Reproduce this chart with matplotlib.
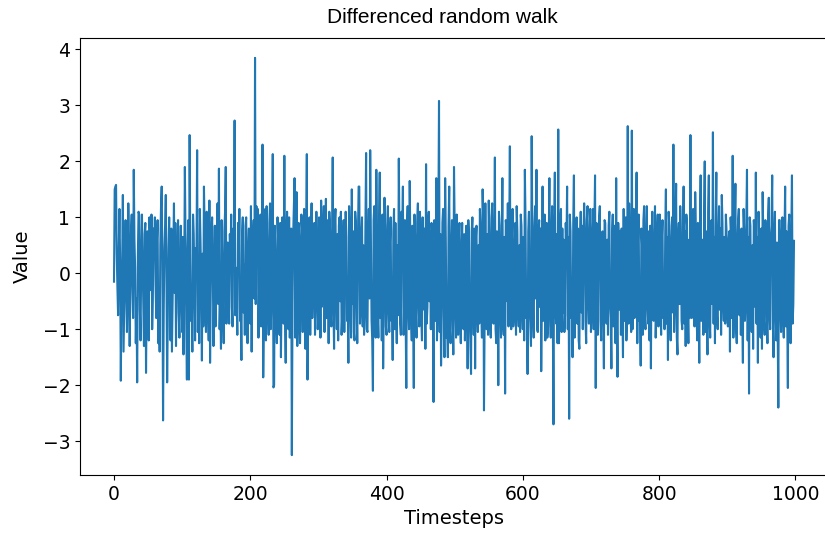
import matplotlib
matplotlib.use("Agg")
import matplotlib.pyplot as plt
import numpy as np

# values (differenced random walk), index 0..998
diff_values = [
    -0.15, 1.50, 1.55, 1.58, 0.35, -0.25, -0.75, 0.45, 1.15, 0.20,
    -1.92, -0.45, 0.15, 1.40, -1.40, -0.60, 0.25, 0.95, -0.35, -1.05,
    -0.55, 1.25, 0.40, -1.30, -0.20, 0.75, 1.05, -0.15, -0.80, 1.85,
    0.60, 0.10, -1.25, -0.45, -1.95, 0.30, 1.10, 1.05, -0.65, -1.20,
    0.35, 1.05, 0.20, -0.50, -1.30, 0.70, 0.90, -1.78, -0.40, 0.75,
    0.15, -1.20, 1.00, 0.60, -0.30, 1.05, -1.00, -0.45, 0.80, 0.25,
    1.00, -0.20, -0.80, 0.60, 0.95, -1.25, -0.35, -1.40, 0.50, 1.20,
    1.55, 0.20, -2.63, -0.65, 0.45, 0.85, 1.40, -0.10, -1.95, -0.70,
    0.45, 1.00, -0.30, -1.20, 0.80, -1.40, -0.55, 0.25, 1.25, -0.35,
    0.90, -1.30, -0.15, 0.35, 0.95, -0.70, -1.15, 0.10, 0.85, -0.40,
    -1.05, 0.65, -1.45, -0.20, 1.90, 0.50, -0.80, -1.90, 0.35, 0.95,
    -1.90, 2.47, 0.30, -0.85, -0.40, -1.40, 1.05, 0.70, -0.25, -1.20,
    0.45, 0.15, 2.20, -1.05, -0.30, -1.25, 1.15, 0.55, -0.20, -1.56,
    0.35, -0.95, 1.55, 0.80, -0.70, -1.05, 1.10, 0.35, -0.55, -1.20,
    1.30, -1.60, -0.25, 0.65, 1.00, 0.10, -1.30, -0.45, 0.85, -0.95,
    0.60, 0.20, 1.25, -0.55, 1.87, -1.00, -0.40, -1.35, 0.95, 0.15,
    -0.65, -1.25, 0.75, 1.10, 1.90, -0.90, 0.05, 0.55, -0.45, -0.90,
    0.70, 0.25, 1.05, -0.60, -0.95, 0.80, 0.45, 2.73, -0.75, 0.10,
    -0.50, -1.10, 0.90, 0.30, 1.15, -0.85, -0.55, -1.55, 0.70, 1.00,
    -0.70, 0.15, -1.10, 0.85, 1.00, -0.35, -1.25, 0.40, 0.80, -0.65,
    -0.90, 1.20, -1.40, 0.25, 0.65, 0.95, -0.45, 3.85, -0.55, 1.20,
    0.35, 1.15, -1.15, -0.25, 0.70, 1.05, -0.95, 0.10, 2.30, -1.86,
    -0.70, 0.80, 1.15, -1.20, 1.20, 0.45, -0.55, -1.10, 0.90, 1.25,
    -1.00, -0.50, 0.70, 2.13, -2.04, -2.00, 0.85, 0.20, -0.80, -1.25,
    1.00, 0.55, -0.65, -1.10, 0.90, -1.50, -0.35, 1.00, 0.75, -0.90,
    2.10, -0.70, -1.60, 0.65, 1.10, 0.45, -1.00, 1.00, -1.15, -0.40,
    0.80, -3.25, -0.55, 0.70, 1.20, 1.70, -1.15, 0.50, 1.45, -1.30,
    -0.75, 0.90, 0.55, -1.25, -0.45, 1.05, 0.80, -1.05, 0.35, 1.15,
    -0.90, -1.35, 0.70, 2.13, -1.90, -0.60, 0.85, 1.00, -1.10, 0.45,
    1.25, -0.80, -0.25, 0.60, 0.90, -1.10, -0.50, 1.10, 0.35, -1.00,
    -0.70, 1.00, 0.55, -1.15, 1.30, -0.60, -0.45, 0.85, 1.20, -1.05,
    0.60, 1.33, -0.80, -0.40, 0.95, -1.25, 1.10, 0.80, -0.70, -0.95,
    0.50, 2.07, -0.55, -1.35, 0.90, 1.15, -0.35, -1.00, 0.70, -1.20,
    0.85, 1.00, -0.50, 1.10, -1.10, -0.75, 0.55, 0.95, -1.05, 0.40,
    1.10, 0.65, -0.85, -0.45, -1.60, 1.20, 0.80, -0.70, -1.15, 1.50,
    -0.55, 0.75, -1.05, -1.20, 1.10, 0.90, -0.30, -1.25, 0.60, 1.55,
    1.55, -0.90, -0.60, 0.70, 1.00, -0.95, 0.50, -1.10, -0.75, 0.85,
    2.15, -1.00, -1.05, 0.55, 1.15, -0.45, 2.20, 0.75, -0.85, -1.20,
    -2.10, 0.95, 1.20, -0.55, -1.15, 1.85, 0.45, -0.70, -1.15, 0.90,
    1.80, -0.80, 0.60, -1.20, 1.05, -1.70, -0.40, 1.35, 0.70, -0.95,
    -1.10, 0.85, 1.20, -0.60, -1.05, 0.55, 1.00, -0.85, -0.45, -1.55,
    0.75, 1.15, -1.00, 0.90, -0.55, -1.25, 0.50, -0.75, 2.05, 0.65,
    -0.90, -1.10, 1.10, 0.70, 1.55, -1.10, -0.50, 0.95, -0.80, -2.05,
    0.80, 1.20, -0.60, -1.00, 1.65, 0.45, -0.75, -1.20, 0.85, -0.55,
    -2.05, 1.05, 0.60, -0.70, -1.15, 0.90, 1.25, -0.45, -0.95, 1.10,
    0.70, -0.80, -1.20, 1.00, 0.50, -0.65, 0.80, -1.35, 1.95, -0.90,
    -0.60, 0.85, 1.10, -0.50, 0.75, -1.00, 0.90, 0.45, -0.70, -2.30,
    0.95, 0.65, -0.85, 1.70, -1.20, -0.55, 0.80, 3.08, -1.05, 0.70,
    -1.65, -0.75, 0.90, 1.15, -0.45, -1.50, 1.70, 0.55, -1.15, -0.90,
    -1.50, 0.85, 1.55, -1.00, -1.25, 0.50, 0.95, -0.55, -1.45, 1.90,
    0.80, -0.70, -1.15, 1.05, 0.55, -1.10, 0.65, 0.90, -0.85, -1.25,
    0.45, 0.90, -0.75, -1.00, 0.70, -1.20, -0.55, 0.85, 0.40, -1.70,
    0.95, 0.65, -0.80, -1.20, -1.80, 0.75, 1.00, -0.50, -1.10, 0.80,
    -1.70, 0.60, 0.85, -0.70, -1.05, 0.50, -0.90, 1.15, 0.80, -0.60,
    -1.15, 1.50, 0.90, -2.45, -0.75, 1.25, -0.55, -1.00, 0.70, -1.10,
    1.30, 0.55, -0.85, -1.15, 1.00, 1.25, -0.55, -0.90, 0.70, 2.07,
    -1.00, -1.25, 0.75, 0.60, -2.00, 1.10, 0.85, -0.70, -1.15, 0.45,
    1.70, -0.90, -1.10, 0.65, -2.15, 0.95, 0.80, -0.50, 1.25, -0.95,
    0.70, 2.27, -0.80, -1.00, 0.60, 1.15, -0.95, -0.75, 0.45, 0.90,
    -1.10, 1.20, 0.75, -0.65, -0.95, 0.50, -1.05, 1.05, 0.85, -0.70,
    -1.00, 0.65, -1.20, 1.85, 0.90, -0.80, -0.55, -1.80, 0.75, 1.10,
    -0.65, -0.90, -1.30, 2.45, 0.60, -0.75, -1.15, 0.85, 1.20, -0.45,
    1.85, -1.00, -1.05, 0.70, 0.95, -0.60, 0.80, -1.75, -0.45, 1.55,
    -0.85, 0.65, 1.05, -1.20, -0.70, 0.90, -1.15, -0.95, 0.55, 1.70,
    -0.60, -1.15, 0.75, 1.20, -0.80, -2.70, 0.85, 1.80, -0.65, -0.90,
    0.70, -1.25, 2.57, -1.25, -0.60, 0.95, 1.15, -1.05, 0.80, -0.70,
    0.60, -1.05, -0.75, 0.90, 0.45, 1.55, -1.00, 0.65, -2.60, 1.05,
    0.75, -0.80, -0.60, -1.50, 0.90, 1.75, -1.15, -0.55, 0.70, 1.00,
    -0.90, 0.80, -1.20, -1.35, 0.55, 1.10, -0.70, 0.85, -1.00, 0.60,
    1.25, 0.75, -0.85, -1.25, 0.95, 1.20, -0.50, -0.90, 0.65, 1.15,
    -1.05, -0.60, 0.70, 1.15, -1.00, 0.80, 1.75, -2.05, 0.90, -0.75,
    -1.10, 0.65, 1.00, 1.20, -0.85, -1.20, 0.55, 0.75, -0.65, -1.70,
    0.95, 0.90, -0.70, -0.90, 0.60, -1.10, 0.85, 1.10, -0.55, -0.80,
    -1.70, 0.70, 1.05, -0.95, -0.60, 0.85, -1.25, 1.70, -0.75, -1.85,
    0.90, 0.55, -0.65, 0.75, -1.10, 0.80, -0.50, -1.50, 1.15, -0.85,
    0.75, 1.00, -1.20, -0.60, 2.63, -0.90, 1.25, 0.65, -0.75, -1.05,
    2.55, -1.00, 0.70, 1.15, -0.80, -0.55, 0.90, 1.80, -1.25, 0.60,
    1.05, -0.85, -0.65, -1.65, 0.80, 0.50, -1.10, 0.95, 1.20, -0.75,
    -1.00, 0.65, 1.20, -0.55, -0.90, 0.75, -1.20, 0.85, -1.70, 0.60,
    1.10, -0.70, -0.85, 0.55, 1.20, -1.15, -0.60, 0.70, 1.05, -0.95,
    0.80, 1.05, -0.65, -1.10, 0.60, 0.95, -0.80, -0.55, -1.00, 0.70,
    1.50, -0.90, 0.65, -1.55, 1.10, 0.85, -0.75, -1.20, 0.55, 1.00,
    -0.70, 2.30, -1.05, -0.60, 0.75, 1.60, -1.15, -1.45, 0.65, 0.90,
    -0.55, 1.20, 0.70, -0.85, -1.00, 0.50, 1.55, -0.90, 0.75, -1.30,
    1.05, 0.85, -0.65, -1.25, 0.60, -0.80, 2.47, -0.70, -0.80, 0.95,
    1.15, -0.60, -0.95, 1.45, 0.65, -0.75, -1.20, 0.90, -0.50, -1.60,
    0.80, 1.75, -0.85, -0.70, 0.60, -1.10, 1.00, 2.00, -1.05, 0.75,
    -0.60, -1.45, 1.10, 1.75, -0.80, -1.15, 0.70, 0.95, -0.55, 2.52,
    -0.90, 0.65, -1.25, 0.85, 1.80, -0.75, -1.00, 0.60, 1.20, -0.65,
    0.80, -1.10, 1.40, 0.90, -0.55, -0.85, 0.65, -0.90, 1.05, 0.75,
    -0.70, -0.95, 0.60, 0.75, -1.40, 1.00, 0.70, -0.80, 2.10, -1.15,
    -0.65, 0.85, 1.60, -1.00, -1.25, 0.55, 0.95, 1.15, -0.75, 0.60,
    -1.10, 0.80, -0.60, -1.60, 1.15, 0.70, -0.85, -0.55, 0.90, 1.85,
    -1.20, 0.65, -2.15, 1.00, 0.85, -0.75, -1.05, 0.50, -1.35, 0.95,
    0.75, -0.60, 1.80, -0.90, 0.65, -1.60, 1.10, 0.55, -0.70, -1.15,
    0.80, -1.35, 1.45, 0.60, -0.85, -1.10, 0.95, 0.75, -0.55, -1.25,
    1.00, 1.35, -0.75, -1.00, 0.65, 0.85, 1.75, -0.90, -1.50, 0.70,
    1.10, -0.65, -1.20, 0.55, -0.85, -2.40, 0.95, 0.95, -0.60, -1.05,
    0.70, 1.00, -0.80, -1.15, 0.60, 1.55, -0.95, 0.75, -0.70, -2.05,
    0.85, 1.05, -0.60, -1.25, 0.65, 1.75, -0.90, -0.55, 0.58,
]
timesteps = np.arange(len(diff_values))

fig = plt.figure(figsize=(8.25, 5.36), dpi=100)
ax = fig.add_axes([80 / 825, 61 / 536, 748 / 825, 437 / 536])

ax.plot(timesteps, diff_values, color='#1f77b4', linewidth=1.5)
ax.set_title('Differenced random walk', fontsize=15, family='Liberation Sans',
             pad=11, x=0.485)
ax.set_xlabel('Timesteps', fontsize=14)
ax.set_ylabel('Value', fontsize=14, labelpad=8)
ax.tick_params(labelsize=13.5)

fig.savefig('out.png', dpi=100)
